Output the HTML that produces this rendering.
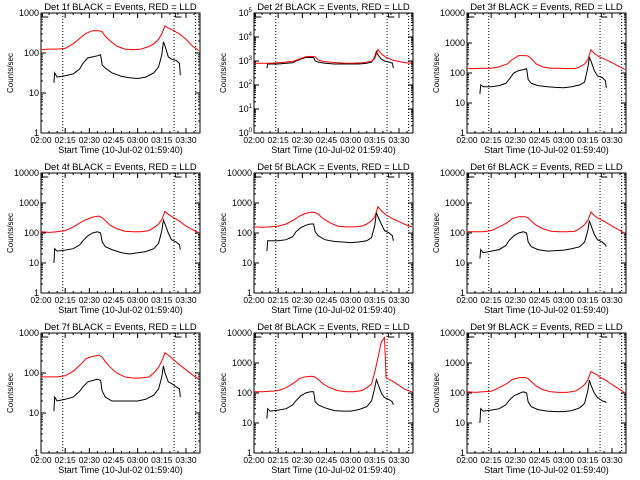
<!DOCTYPE html>
<html><head><meta charset="utf-8"><style>
html,body{margin:0;padding:0;background:#fff;}
svg{display:block;font-family:"Liberation Sans",sans-serif;}
</style></head><body>
<svg id="c" width="640" height="480" viewBox="0 0 640 480"></svg>
<script>
const T_RED=[0,5,10,15,20,25,28,32,36,38,40,43,47,52,57,62,67,70,73,75,77,79,81,82,86,90,94,98];
const T_BLK=[8,8.5,10,15,20,24,26,29,32,35,37,38,40,44,50,55,60,65,70,73,75,76,77,79,81,84,86,86.5];
const X_TICK_LABELS=["02:00","02:15","02:30","02:45","03:00","03:15","03:30"];
const DOTTED_TIMES=[13.5,82.6,96];
const DETS=["1f","2f","3f","4f","5f","6f","7f","8f","9f"];
const DECADES=[3,5,4,4,4,4,3,4,4];
const RED1=[120,125,125,130,170,250,310,360,360,340,260,200,150,125,120,125,145,170,220,300,480,420,390,370,300,220,150,115];
const BLK1=[18,32,25,27,30,40,55,75,80,85,90,50,42,32,26,24,23,25,32,45,90,190,150,80,70,65,55,28];
const RED2=[800,800,800,850,900,1000,1200,1500,1550,1500,1100,950,900,850,800,820,850,900,1000,1300,3000,2000,1600,1400,1100,950,850,800];
const BLK2=[500,750,750,750,800,850,1000,1200,1400,1400,1400,1000,900,800,750,750,750,750,800,900,1500,2500,1800,1200,1000,900,800,500];
const RED3=[140,140,145,145,160,200,280,380,380,370,300,200,160,145,145,140,140,160,200,280,600,450,380,350,280,220,170,130];
const BLK3=[20,40,35,35,38,45,60,100,120,130,140,60,45,38,35,33,32,35,40,50,150,330,250,120,80,70,55,32];
const RED4=[110,105,110,120,160,230,280,340,370,320,260,180,140,115,110,110,120,150,200,280,520,420,360,330,250,170,130,100];
const BLK4=[10,30,25,27,30,40,55,80,100,110,100,50,35,28,22,20,22,24,30,45,120,270,200,100,60,50,40,28];
const RED5=[160,155,160,170,200,280,360,450,500,480,420,300,220,170,160,160,170,200,260,350,750,550,450,400,300,240,190,160];
const BLK5=[25,55,55,55,60,75,110,150,180,200,200,110,80,60,52,50,48,50,55,70,180,480,350,200,120,100,80,55];
const RED6=[110,110,110,120,160,220,300,350,350,320,250,180,140,115,110,110,115,140,190,260,500,380,320,300,230,170,130,95];
const BLK6=[14,28,22,25,28,38,55,80,100,110,100,50,35,28,25,26,27,30,35,50,120,260,180,90,60,50,40,35];
const RED7=[80,80,80,85,110,170,230,260,280,250,190,140,100,80,75,75,80,100,140,200,320,280,240,220,160,120,90,70];
const BLK7=[11,25,20,22,25,35,45,60,65,70,65,35,25,20,20,20,20,22,28,40,80,150,100,60,55,45,40,25];
const RED8=[110,110,115,120,150,220,300,350,360,340,280,200,150,120,110,110,120,150,200,500,1500,5000,7000,320,250,180,130,110];
const BLK8=[14,30,25,27,30,40,55,80,100,110,110,50,40,32,26,25,25,28,35,55,150,280,200,100,70,60,50,40];
const RED9=[110,105,110,115,150,210,280,320,330,300,240,170,130,110,105,105,115,140,190,270,520,450,400,350,270,190,140,100];
const BLK9=[10,30,25,27,30,40,55,80,95,110,100,50,35,28,25,24,24,26,32,45,120,270,180,100,70,55,50,48];
const REDS=[RED1,RED2,RED3,RED4,RED5,RED6,RED7,RED8,RED9];
const BLKS=[BLK1,BLK2,BLK3,BLK4,BLK5,BLK6,BLK7,BLK8,BLK9];

const NS="http://www.w3.org/2000/svg";
const svg=document.getElementById('c');
function mk(tag,attrs,parent){const e=document.createElementNS(NS,tag);for(const k in attrs)e.setAttribute(k,attrs[k]);parent.appendChild(e);return e;}
const L=41,R=200,TOP=13,BOT=133,TMAX=98.7;
for(let i=0;i<9;i++){
  const ox=(i%3)*213, oy=Math.floor(i/3)*160;
  const g=mk('g',{transform:`translate(${ox},${oy})`},svg);
  
  
  const nd=DECADES[i];
  const xs=t=>L+(R-L)*t/TMAX;
  const ys=v=>BOT-(BOT-TOP)*Math.log10(Math.max(v,1))/nd;
  // frame
  const fr=mk('rect',{x:L,y:TOP,width:R-L,height:BOT-TOP,fill:'none',stroke:'#000','stroke-width':1},g);
  
  
  // y ticks
  for(let d=0;d<=nd;d++){
    const y=ys(Math.pow(10,d));
    mk('line',{x1:L,x2:L+5,y1:y,y2:y,stroke:'#000'},g);
    mk('line',{x1:R,x2:R-5,y1:y,y2:y,stroke:'#000'},g);
    for(let m=2;m<10&&d<nd;m++){const ym=ys(m*Math.pow(10,d));mk('line',{x1:L,x2:L+2,y1:ym,y2:ym,stroke:'#000'},g);mk('line',{x1:R,x2:R-2,y1:ym,y2:ym,stroke:'#000'},g);}
    const lab=mk('text',{x:L-2,y:y+3,'text-anchor':'end','font-size':9},g);
    
    
    if(nd===5){lab.textContent='10';const s=mk('tspan',{dy:-4,'font-size':6},lab);s.textContent=String(d);}
    else lab.textContent=String(Math.pow(10,d));
  }
  // x ticks
  X_TICK_LABELS.forEach((s,k)=>{
    const x=xs(k*15);
    mk('line',{x1:x,x2:x,y1:BOT,y2:BOT-5,stroke:'#000'},g);
    mk('line',{x1:x,x2:x,y1:TOP,y2:TOP+5,stroke:'#000'},g);
    for(let m=1;m<3;m++){const xm=xs(k*15+m*5);if(xm<R){mk('line',{x1:xm,x2:xm,y1:BOT,y2:BOT-2,stroke:'#000'},g);mk('line',{x1:xm,x2:xm,y1:TOP,y2:TOP+2,stroke:'#000'},g);}}
    const t=mk('text',{x:x,y:BOT+10,'text-anchor':'middle','font-size':8.5},g);
    
    
    t.textContent=s;
  });
  // dotted lines
  DOTTED_TIMES.forEach(t=>{
    const x=xs(t);
    const l=mk('line',{x1:x,x2:x,y1:TOP,y2:BOT,stroke:'#000','stroke-dasharray':'1,2'},g);
    
    
  });
  // E markers
  [0.8,DOTTED_TIMES[1]+0.8].forEach(t=>{
    const x=xs(t);
    mk('path',{d:`M${x+6},${TOP} H${x} V${TOP+4} H${x+6}`,fill:'none',stroke:'#000'},g);
  });
  // series
  const pts=(T,V)=>T.map((t,k)=>xs(t).toFixed(1)+','+ys(V[k]).toFixed(1)).join(' ');
  const bl=mk('polyline',{points:pts(T_BLK,BLKS[i]),fill:'none',stroke:'#000','stroke-width':1},g);
  
  
  const rl=mk('polyline',{points:pts(T_RED,REDS[i]),fill:'none',stroke:'#f00','stroke-width':1},g);
  
  
  // titles
  const ti=mk('text',{x:(L+R)/2,y:10,'text-anchor':'middle','font-size':9.5},g);
  
  
  ti.textContent='Det '+DETS[i]+' BLACK = Events, RED = LLD';
  const xt=mk('text',{x:(L+R)/2,y:153,'text-anchor':'middle','font-size':9},g);
  
  
  xt.textContent='Start Time (10-Jul-02 01:59:40)';
  const yt=mk('text',{x:0,y:0,'text-anchor':'middle','font-size':8,transform:`translate(13,${(TOP+BOT)/2}) rotate(-90)`},g);
  
  
  yt.textContent='Counts/sec';
}
</script>
</body></html>
